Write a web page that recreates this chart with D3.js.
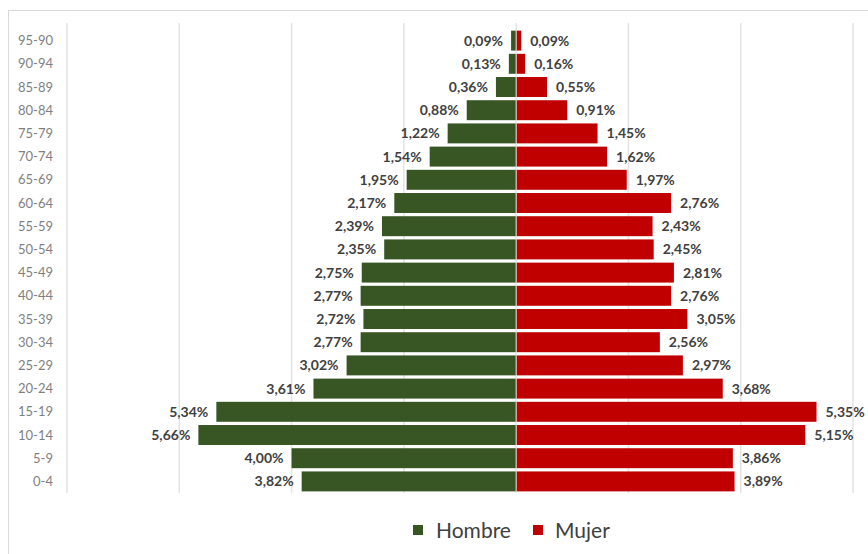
<!DOCTYPE html>
<html><head><meta charset="utf-8">
<script src="https://cdn.jsdelivr.net/npm/d3@7"></script>
<style>body{margin:0;background:#fff;}svg{display:block;}</style>
</head><body>
<svg id="c" width="868" height="554"></svg>
<script>
const categories = ["95-90","90-94","85-89","80-84","75-79","70-74","65-69","60-64","55-59","50-54","45-49","40-44","35-39","30-34","25-29","20-24","15-19","10-14","5-9","0-4"];
const hombre = [0.09,0.13,0.36,0.88,1.22,1.54,1.95,2.17,2.39,2.35,2.75,2.77,2.72,2.77,3.02,3.61,5.34,5.66,4.00,3.82];
const mujer  = [0.09,0.16,0.55,0.91,1.45,1.62,1.97,2.76,2.43,2.45,2.81,2.76,3.05,2.56,2.97,3.68,5.35,5.15,3.86,3.89];
const gridTicks = [-8,-6,-4,-2,0,2,4,6];
const seriesNames = ["Hombre","Mujer"];
const colors = ["#375623","#C00000"];

const svg = d3.select("#c");
// outer border
svg.append("rect").attr("x",8.5).attr("y",10.5).attr("width",868).attr("height",560)
  .attr("fill","none").attr("stroke","#d9d9d9");

const x = d3.scaleLinear().domain([-8,6]).range([67,853]);
const y = d3.scaleBand().domain(categories).range([29,493]).paddingInner(0.14).paddingOuter(0.07);

// gridlines
svg.append("g").selectAll("line").data(gridTicks).join("line")
  .attr("x1",d=>x(d)).attr("x2",d=>x(d)).attr("y1",23).attr("y2",493)
  .attr("stroke","#e3e3e3").attr("stroke-width",1.5);

const fmt = v => v.toFixed(2).replace(".",",") + "%";

// bars
svg.append("g").selectAll("rect").data(hombre).join("rect")
  .attr("x",d=>x(-d)).attr("width",d=>x(0)-x(-d))
  .attr("y",(d,i)=>y(categories[i])).attr("height",y.bandwidth())
  .attr("fill",colors[0]);
svg.append("g").selectAll("rect").data(mujer).join("rect")
  .attr("x",x(0)).attr("width",d=>x(d)-x(0))
  .attr("y",(d,i)=>y(categories[i])).attr("height",y.bandwidth())
  .attr("fill",colors[1]);
// separator
svg.append("line").attr("x1",x(0)).attr("x2",x(0)).attr("y1",29).attr("y2",493)
  .attr("stroke","#e8e8e8").attr("stroke-width",1);

// labels
const lblFont = "Lato, 'Open Sans', sans-serif";
svg.append("g").selectAll("text").data(hombre).join("text")
  .attr("x",d=>x(-d)-8).attr("y",(d,i)=>y(categories[i])+y.bandwidth()/2+5)
  .attr("text-anchor","end").attr("font-family",lblFont).attr("font-weight","bold")
  .attr("font-size","14px").attr("fill","#404040").text(fmt);
svg.append("g").selectAll("text").data(mujer).join("text")
  .attr("x",d=>x(d)+9).attr("y",(d,i)=>y(categories[i])+y.bandwidth()/2+5)
  .attr("text-anchor","start").attr("font-family",lblFont).attr("font-weight","bold")
  .attr("font-size","14px").attr("fill","#404040").text(fmt);

// category axis
svg.append("g").selectAll("text").data(categories).join("text")
  .attr("x",53).attr("y",d=>y(d)+y.bandwidth()/2+4.5)
  .attr("text-anchor","end").attr("font-family",lblFont)
  .attr("font-size","13px").attr("fill","#7f7f7f").text(d=>d);

// legend
const leg = [{x:413,tx:436},{x:533,tx:555}];
seriesNames.forEach((n,i)=>{
  svg.append("rect").attr("x",leg[i].x).attr("y",525).attr("width",10).attr("height",10).attr("fill",colors[i]);
  svg.append("text").attr("x",leg[i].tx).attr("y",538).attr("font-family",lblFont)
    .attr("font-size","21px").attr("fill","#404040").text(n);
});
</script>
</body></html>
